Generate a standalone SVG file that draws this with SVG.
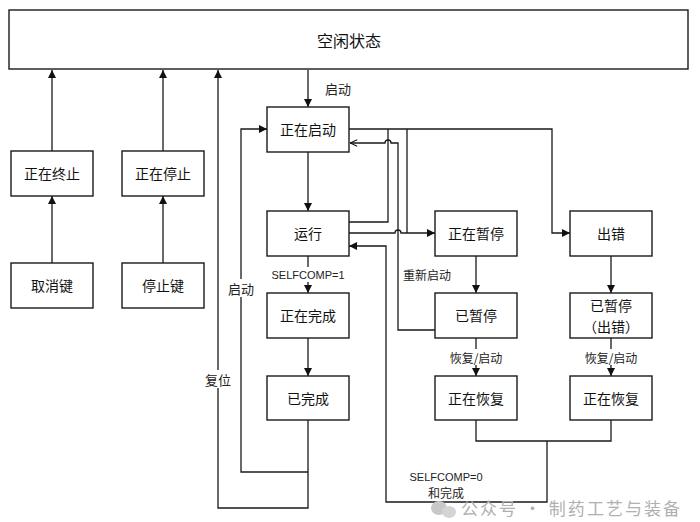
<svg xmlns="http://www.w3.org/2000/svg" width="700" height="522" viewBox="0 0 700 522">
<style>
.box{fill:#fff;stroke:#1a1a1a;stroke-width:1.4}
.t{font-family:"Noto Sans CJK SC","Noto Sans",sans-serif;font-size:14px;fill:#111;text-anchor:middle;dominant-baseline:central}
.big{font-size:16px}
.lbl{font-family:"Noto Sans CJK SC","Noto Sans",sans-serif;font-size:12px;fill:#222;text-anchor:middle;dominant-baseline:central}
.lat{font-family:"Liberation Sans","Noto Sans",sans-serif;font-size:11px}
.e{fill:none;stroke:#1a1a1a;stroke-width:1.3}
.bg{fill:#fff}
.wm{font-family:"Noto Sans CJK SC",sans-serif;font-size:17px;fill:#b0b0b0}
</style>
<defs>
<marker id="ar" viewBox="0 0 10 10" refX="10" refY="5" markerWidth="8" markerHeight="8" markerUnits="userSpaceOnUse" orient="auto">
<path d="M0,0 L10,5 L0,10 z" fill="#111"/>
</marker>
<marker id="op" viewBox="0 0 10 10" refX="10" refY="5" markerWidth="8" markerHeight="8" markerUnits="userSpaceOnUse" orient="auto">
<path d="M1,1 L10,5 L1,9" fill="none" stroke="#111" stroke-width="1.3"/>
</marker>
</defs>

<g id="connectors">
<path class="e" d="M52,151 V70" marker-end="url(#ar)"/>
<path class="e" d="M52,263 V196" marker-end="url(#ar)"/>
<path class="e" d="M163,151 V70" marker-end="url(#ar)"/>
<path class="e" d="M163,263 V196" marker-end="url(#ar)"/>
<path class="e" d="M308,70 V107" marker-end="url(#ar)"/>
<path class="e" d="M308,152 V211" marker-end="url(#ar)"/>
<path class="e" d="M308,256 V293" marker-end="url(#ar)"/>
<path class="e" d="M308,338 V376" marker-end="url(#ar)"/>
<path class="e" d="M308,420 V508 H218 V70" marker-end="url(#ar)"/>
<path class="e" d="M308,472 H241 V129 H267" marker-end="url(#ar)"/>
<path class="e" d="M349,129 H552 V233 H570" marker-end="url(#ar)"/>
<path class="e" d="M407,129 V233"/>
<path class="e" d="M349,222 H388 V129"/>
<path class="e" d="M349,233 H395 A3,3 0 0 1 401,233 H435" marker-end="url(#ar)"/>
<path class="e" d="M435,330 H398 V143 H391 A3,3 0 0 0 385,143 H350" marker-end="url(#op)"/>
<path class="e" d="M476,256 V293" marker-end="url(#ar)"/>
<path class="e" d="M476,338 V376" marker-end="url(#ar)"/>
<path class="e" d="M611,256 V293" marker-end="url(#ar)"/>
<path class="e" d="M611,338 V376" marker-end="url(#ar)"/>
<path class="e" d="M476,420 V441 H611 V420"/>
<path class="e" d="M547,441 V502 H386 V246 H349" marker-end="url(#ar)"/>

<rect class="bg" x="320" y="78" width="36" height="20"/>
<text class="lbl" x="338" y="88" style="font-size:13px">启动</text>
<rect class="bg" x="272" y="267" width="72" height="15"/>
<text class="lbl lat" x="308" y="275">SELFCOMP=1</text>
<rect class="bg" x="225" y="279" width="32" height="18"/>
<text class="lbl" x="241" y="288" style="font-size:13px">启动</text>
<rect class="bg" x="202" y="370" width="32" height="18"/>
<text class="lbl" x="218" y="379" style="font-size:13px">复位</text>
<text class="lbl" x="427" y="274">重新启动</text>
<rect class="bg" x="449" y="349" width="54" height="16"/>
<text class="lbl" x="476" y="357">恢复/启动</text>
<rect class="bg" x="584" y="349" width="54" height="16"/>
<text class="lbl" x="611" y="357">恢复/启动</text>
<rect class="bg" x="408" y="467" width="76" height="32"/>
<text class="lbl lat" x="446" y="477">SELFCOMP=0</text>
<text class="lbl" x="446" y="492">和完成</text>
</g>

<g id="idle"><rect class="box" x="9" y="10" width="679" height="59"/><text class="t big" x="349" y="40">空闲状态</text></g>
<g id="terminating"><rect class="box" x="11" y="151" width="82" height="45"/><text class="t" x="52" y="173">正在终止</text></g>
<g id="stopping"><rect class="box" x="122" y="151" width="82" height="45"/><text class="t" x="163" y="173">正在停止</text></g>
<g id="cancel-key"><rect class="box" x="11" y="263" width="82" height="45"/><text class="t" x="52" y="285">取消键</text></g>
<g id="stop-key"><rect class="box" x="122" y="263" width="82" height="45"/><text class="t" x="163" y="285">停止键</text></g>
<g id="starting"><rect class="box" x="267" y="107" width="82" height="45"/><text class="t" x="308" y="129">正在启动</text></g>
<g id="running"><rect class="box" x="267" y="211" width="82" height="45"/><text class="t" x="308" y="233">运行</text></g>
<g id="completing"><rect class="box" x="267" y="293" width="82" height="45"/><text class="t" x="308" y="315">正在完成</text></g>
<g id="completed"><rect class="box" x="267" y="376" width="82" height="44"/><text class="t" x="308" y="398">已完成</text></g>
<g id="pausing"><rect class="box" x="435" y="211" width="82" height="45"/><text class="t" x="476" y="233">正在暂停</text></g>
<g id="paused"><rect class="box" x="435" y="293" width="82" height="45"/><text class="t" x="476" y="315">已暂停</text></g>
<g id="resuming1"><rect class="box" x="435" y="376" width="82" height="44"/><text class="t" x="476" y="398">正在恢复</text></g>
<g id="error"><rect class="box" x="570" y="211" width="82" height="45"/><text class="t" x="611" y="233">出错</text></g>
<g id="paused-error"><rect class="box" x="570" y="293" width="82" height="45"/><text class="t" x="611" y="305">已暂停</text><text class="t" x="611" y="326">（出错）</text></g>
<g id="resuming2"><rect class="box" x="570" y="376" width="82" height="44"/><text class="t" x="611" y="398">正在恢复</text></g>

<g id="watermark">
<ellipse cx="439" cy="508" rx="8" ry="7" fill="#c8c8c8"/>
<ellipse cx="449" cy="512" rx="7" ry="6" fill="#d4d4d4"/>
<text class="wm" x="461" y="515" textLength="219" lengthAdjust="spacing">公众号 · 制药工艺与装备</text>
</g>
</svg>
